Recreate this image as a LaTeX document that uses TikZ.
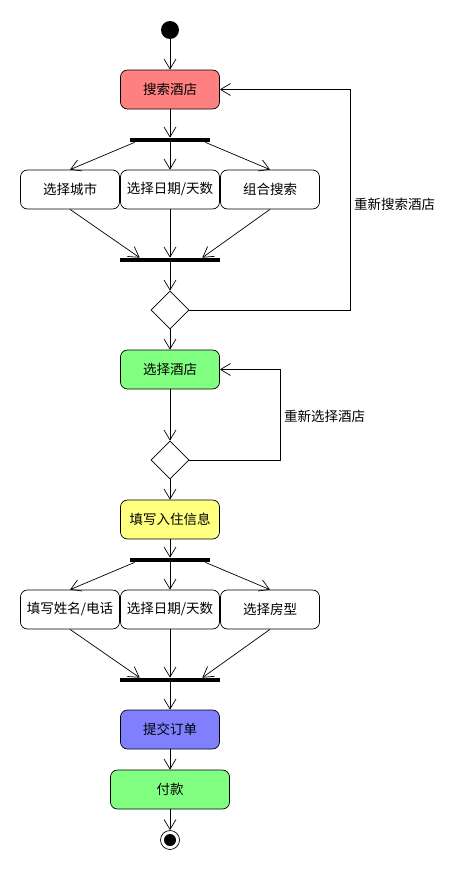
\documentclass[tikz,border=0pt]{standalone}
\usepackage{fontspec}
\usepackage{xcolor}
\usepackage{tikz}
\usetikzlibrary{positioning, shapes.geometric, arrows.meta}
\newfontfamily\cjk{Noto Sans CJK SC}
\definecolor{redact}{HTML}{FF8080}
\definecolor{greenact}{HTML}{80FF80}
\definecolor{yellowact}{HTML}{FFFF80}
\definecolor{blueact}{HTML}{8080FF}

\begin{document}
\begin{tikzpicture}[x=1pt, y=1pt, line width=0.7pt,
	>={Straight Barb[length=10pt,width=12pt]},
	act/.style = {draw, rounded corners=7pt, minimum width=99pt, minimum height=39pt, inner sep=1pt, font=\cjk\fontsize{13.5}{15}\selectfont},
	bar/.style = {fill=black, inner sep=0pt, minimum height=4pt},
	dec/.style = {draw, diamond, fill=white, inner sep=0pt, minimum size=38pt},
	lbl/.style = {font=\cjk\fontsize{13.5}{15}\selectfont},
	start/.style = {circle, fill=black, inner sep=0pt, minimum size=18pt},
	stop/.style = {circle, draw, inner sep=0pt, minimum size=19pt}]
		\useasboundingbox (0,0) rectangle (470,-870);

		\node[start] (s) at (170,-30) {};
		\node[act, fill=redact, below of=s, node distance=59.5pt] (a1) {搜索酒店};
		\node[bar, minimum width=80pt, below of=a1, node distance=50.5pt] (f1) {};
		\node[act, below of=f1, node distance=49.5pt] (b2) {选择日期/天数};
		\node[act, left of=b2, node distance=100pt] (b1) {选择城市};
		\node[act, right of=b2, node distance=100pt] (b3) {组合搜索};
		\node[bar, minimum width=100pt, below of=b2, node distance=70.5pt] (j1) {};
		\node[dec, below of=j1, node distance=50pt] (d1) {};
		\node[act, fill=greenact, below of=d1, node distance=59.5pt] (a2) {选择酒店};
		\node[dec, below of=a2, node distance=90.5pt] (d2) {};
		\node[act, fill=yellowact, below of=d2, node distance=59.5pt] (a3) {填写入住信息};
		\node[bar, minimum width=80pt, below of=a3, node distance=40.5pt] (f2) {};
		\node[act, below of=f2, node distance=49.5pt] (c2) {选择日期/天数};
		\node[act, left of=c2, node distance=100pt] (c1) {填写姓名/电话};
		\node[act, right of=c2, node distance=100pt] (c3) {选择房型};
		\node[bar, minimum width=100pt, below of=c2, node distance=70.5pt] (j2) {};
		\node[act, fill=blueact, below of=j2, node distance=49.5pt] (a4) {提交订单};
		\node[act, fill=greenact, minimum width=119pt, below of=a4, node distance=60pt] (a5) {付款};
		\node[stop, below of=a5, node distance=50.5pt] (e) {};
		\node[circle, fill=black, inner sep=0pt, minimum size=12pt] (e0) at (e) {};

		\draw[->] (s) -- (a1);
		\draw[->] (a1) -- (f1);
		\draw[->] ([xshift=5pt]f1.south west) -- (b1.north);
		\draw[->] (f1) -- (b2);
		\draw[->] ([xshift=-5pt]f1.south east) -- (b3.north);
		\draw[->] (b1.south) -- ([xshift=20pt]j1.north west);
		\draw[->] (b2) -- (j1);
		\draw[->] (b3.south) -- ([xshift=-18pt]j1.north east);
		\draw[->] (j1) -- (d1);
		\draw[->] (d1.east) -- ++(161,0) |- (a1.east) node[lbl, pos=0.24, right] {重新搜索酒店};
		\draw[->] (d1) -- (a2);
		\draw[->] (a2) -- (d2);
		\draw[->] (d2.east) -- ++(91,0) |- (a2.east) node[lbl, pos=0.24, right] {重新选择酒店};
		\draw[->] (d2) -- (a3);
		\draw[->] (a3) -- (f2);
		\draw[->] ([xshift=5pt]f2.south west) -- (c1.north);
		\draw[->] (f2) -- (c2);
		\draw[->] ([xshift=-5pt]f2.south east) -- (c3.north);
		\draw[->] (c1.south) -- ([xshift=20pt]j2.north west);
		\draw[->] (c2) -- (j2);
		\draw[->] (c3.south) -- ([xshift=-18pt]j2.north east);
		\draw[->] (j2) -- (a4);
		\draw[->] (a4) -- (a5);
		\draw[->] (a5) -- (e);

	\end{tikzpicture}
\end{document}
